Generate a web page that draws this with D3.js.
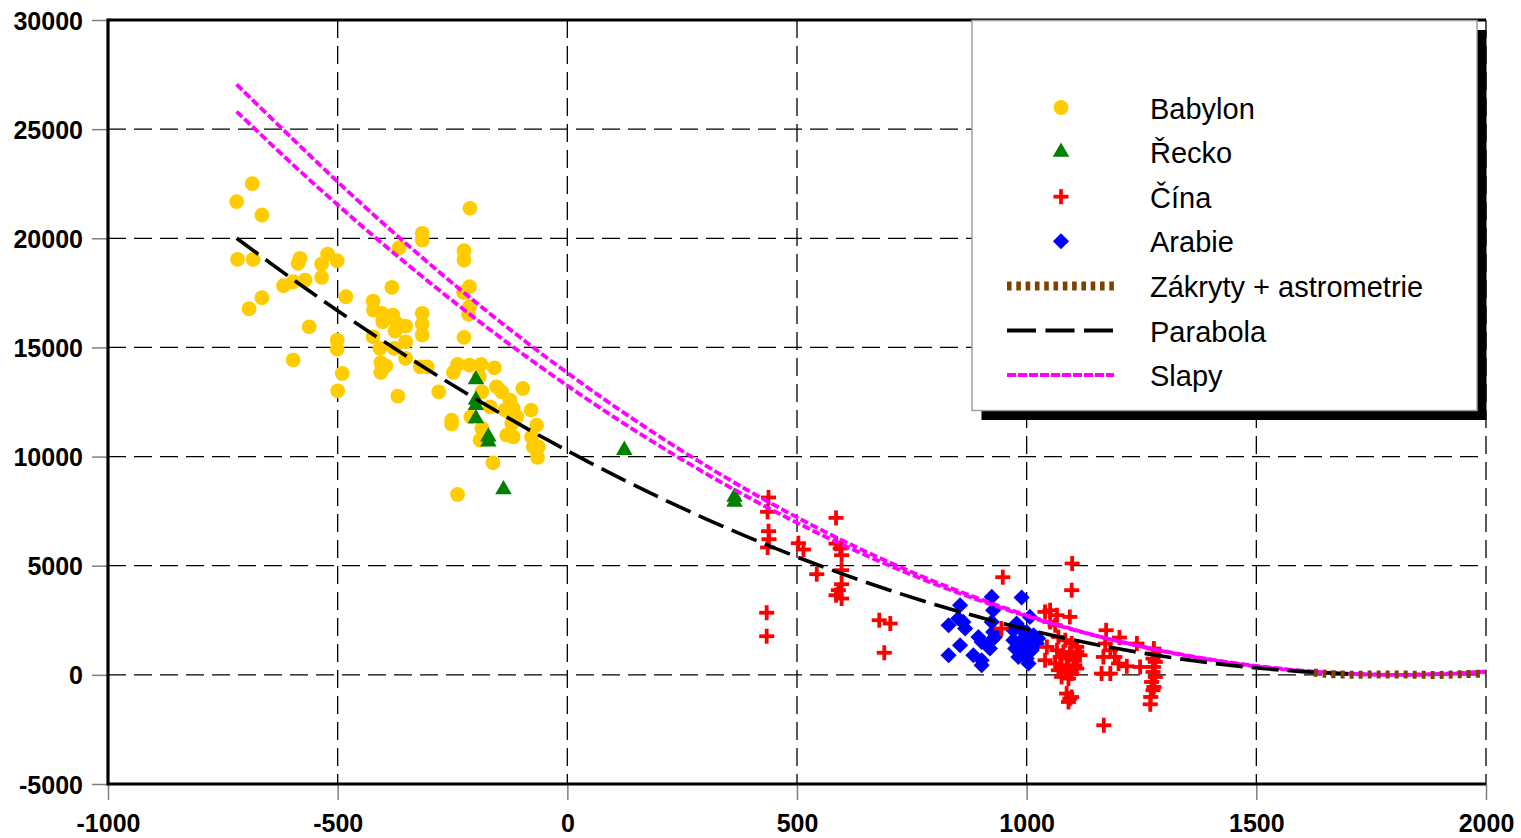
<!DOCTYPE html>
<html>
<head>
<meta charset="utf-8">
<script src="https://cdn.jsdelivr.net/npm/d3@7/dist/d3.min.js"></script>
<style>
  html, body { margin: 0; padding: 0; background: #ffffff; }
  svg { display: block; }
</style>
</head>
<body>
<svg id="chart" width="1521" height="838"></svg>
<script>
// ΔT observations (year, seconds) per historical source
const babylon = [
  [-686, 22500], [-720, 21680], [-665, 21066], [-212, 21373], [-316, 20227], [-316, 19920],
  [-366, 19567], [-718, 19036], [-684, 19036], [-582, 19082], [-586, 18852], [-522, 19279],
  [-535, 18820], [-501, 18971], [-225, 19430], [-225, 19004], [-618, 17826], [-597, 18009],
  [-571, 18087], [-535, 18211], [-665, 17276], [-693, 16771], [-482, 17322], [-382, 17752],
  [-423, 17124], [-422, 16712], [-404, 16561], [-402, 16176], [-380, 16483], [-371, 16102],
  [-375, 15749], [-352, 15978], [-316, 16561], [-316, 16070], [-316, 15566], [-213, 17780],
  [-226, 17523], [-213, 16863], [-215, 16515], [-225, 15460], [-562, 15946], [-501, 15337],
  [-501, 14924], [-423, 15488], [-408, 14956], [-377, 14956], [-352, 15259], [-352, 14498],
  [-597, 14420], [-490, 13810], [-500, 13013], [-406, 14296], [-395, 14159], [-406, 13856],
  [-320, 14113], [-305, 14113], [-369, 12770], [-280, 12967], [-248, 13856], [-239, 14223],
  [-213, 14191], [-188, 14223], [-159, 14067], [-192, 13655], [-186, 12967], [-154, 13196],
  [-143, 12967], [-97, 13123], [-125, 12587], [-168, 12280], [-136, 12128], [-118, 12206],
  [-110, 11821], [-79, 12128], [-121, 11519], [-210, 11821], [-252, 11670], [-252, 11487],
  [-186, 11289], [-190, 10753], [-132, 10982], [-118, 10904], [-67, 11441], [-78, 10904],
  [-74, 10446], [-63, 10446], [-65, 9960], [-162, 9713], [-239, 8264]
];

const recko = [
  [-199, 13535], [-199, 12587], [-199, 12357], [-199, 11748], [-172, 10904], [-172, 10675],
  [-139, 8493], [124, 10295], [364, 8154], [364, 7925]
];

const cina = [
  [438, 8127], [436, 7467], [438, 6582], [439, 6215], [436, 5835], [434, 2846], [434, 1769],
  [503, 6032], [514, 5743], [543, 4611], [585, 7192], [585, 6009], [594, 5789], [597, 5482],
  [597, 4795], [597, 4153], [585, 3649], [597, 3497], [590, 3878], [679, 2503], [703, 2351],
  [690, 1013], [948, 4474], [945, 2122],
  [1099, 5102], [1098, 3878], [1040, 2883], [1051, 2961], [1066, 2732], [1094, 2654],
  [1051, 2425], [1062, 2273], [1044, 1279], [1040, 669], [1069, 1737], [1084, 1586],
  [1098, 1435], [1109, 1279], [1066, 1128], [1080, 1050], [1094, 976], [1109, 1050],
  [1073, 820], [1087, 747], [1102, 669], [1116, 898], [1062, 518], [1076, 440],
  [1091, 362], [1105, 440], [1069, 211], [1084, 133], [1098, 60], [1109, 289],
  [1076, -96], [1091, -170], [1087, -857], [1094, -1086], [1098, -1013], [1091, -1242],
  [1173, 2044], [1202, 1710], [1240, 1435], [1171, 1435], [1182, 1128], [1167, 820],
  [1192, 820], [1200, 518], [1218, 394], [1247, 362], [1163, 60], [1182, 60], [1168, -2310],
  [1277, 1205], [1277, 976], [1275, 747], [1280, 591], [1276, 362], [1275, 133],
  [1280, -96], [1272, -325], [1277, -555], [1275, -706], [1270, -1013], [1269, -1348]
];

const arabie = [
  [855, 3190], [830, 2273], [851, 2581], [862, 2425], [866, 2122], [855, 1357], [830, 898],
  [884, 898], [895, 1737], [902, 1508], [902, 669], [902, 440], [924, 3571], [927, 2961],
  [924, 2425], [927, 1966], [931, 1737], [924, 1586], [920, 1205], [989, 3543], [1007, 2654],
  [978, 2351], [971, 2044], [986, 2122], [1000, 1966], [1015, 1815], [1025, 1664], [971, 1586],
  [989, 1586], [1007, 1508], [1022, 1435], [975, 1205], [993, 1205], [1011, 1128], [982, 820],
  [1000, 747], [1004, 518]
];

// Modern record from lunar occultations and astrometry
const zakrytyYears = [1625, 1650, 1700, 1750, 1800, 1850, 1900, 1950, 2000];
const zakrytyValues = [110, 50, 10, 13, 18, 7, -3, 29, 64];

// Parabolic fit
const parabolaYears = [-720, -600, -500, -400, -300, -200, -100, 0, 100, 200, 300, 400, 500,
  600, 700, 800, 900, 1000, 1100, 1200, 1300, 1400, 1500, 1600, 1700];
const parabolaValues = [20000, 18155, 16685, 15278, 13933, 12649, 11428, 10268, 9171, 8136, 7162,
  6251, 5401, 4614, 3889, 3225, 2624, 2084, 1607, 1192, 838, 547, 317, 150, 45];

// Tidal models (upper and lower bound)
const slapyYears = [-720, -600, -500, -400, -300, -200, -100, 0, 100, 200, 300, 400, 500, 600,
  700, 800, 900, 1000, 1100, 1200, 1300, 1400, 1500, 1600, 1700, 1800, 1900, 2000];
const slapyHorni = [27050, 24595, 22588, 20667, 18831, 17080, 15415, 13835, 12340, 10931, 9608,
  8369, 7216, 6149, 5167, 4270, 3459, 2733, 2092, 1537, 1068, 683, 384, 171, 43, 0, 43, 150];
const slapyDolni = [25806, 23426, 21530, 19714, 17978, 16322, 14746, 13250, 11834, 10498, 9242,
  8066, 6970, 5954, 5018, 4162, 3386, 2690, 2074, 1538, 1082, 706, 410, 194, 58, 2, 26, 130];

const xTicks = [-1000, -500, 0, 500, 1000, 1500, 2000];
const yTicks = [-5000, 0, 5000, 10000, 15000, 20000, 25000, 30000];

const legendLabels = ["Babylon", "Řecko", "Čína", "Arabie", "Zákryty + astrometrie", "Parabola", "Slapy"];

// ---- layout & styling ----
const FONT = "'Liberation Sans', Arial, Helvetica, sans-serif";
const C = {
  babylon: "#ffcc00", recko: "#008000", cina: "#ff0000", arabie: "#0000ff",
  zakryty: "#7f4000", parabola: "#000000", slapy: "#ff00ff"
};
const plot = { left: 108, right: 1486, top: 20, bottom: 784 };

const svg = d3.select("#chart");
svg.append("rect").attr("width", 1521).attr("height", 838).attr("fill", "#fff");

const x = d3.scaleLinear().domain([-1000, 2000]).range([plot.left, plot.right]);
const y = d3.scaleLinear().domain([-5000, 30000]).range([plot.bottom, plot.top]);

// grid
const grid = svg.append("g");
grid.selectAll("line.vg").data(xTicks.filter(d => d > -1000)).join("line")
  .attr("x1", d => x(d)).attr("x2", d => x(d))
  .attr("y1", plot.top).attr("y2", plot.bottom)
  .attr("stroke", "#000").attr("stroke-width", 1.3).attr("stroke-dasharray", "18,8");
grid.selectAll("line.hg").data(yTicks.filter(d => d > -5000 && d < 30000)).join("line")
  .attr("x1", plot.left).attr("x2", plot.right)
  .attr("y1", d => y(d)).attr("y2", d => y(d))
  .attr("stroke", "#000").attr("stroke-width", 1.3).attr("stroke-dasharray", "18,8");

// axes (plain hyphen for negative numbers)
const fmt = d => String(d);
const xAxis = d3.axisBottom(x).tickValues(xTicks).tickSize(16).tickPadding(14).tickFormat(fmt);
const yAxis = d3.axisLeft(y).tickValues(yTicks).tickSize(16).tickPadding(9).tickFormat(fmt);

const gx = svg.append("g").attr("transform", `translate(0,${plot.bottom})`).call(xAxis);
const gy = svg.append("g").attr("transform", `translate(${plot.left},0)`).call(yAxis);
[gx, gy].forEach(g => {
  g.select(".domain").remove();
  g.selectAll(".tick line").attr("stroke", "#808080").attr("stroke-width", 1.5);
  g.selectAll(".tick text")
    .attr("fill", "#000").attr("font-family", FONT).attr("font-size", 25).attr("font-weight", "bold");
});
gx.selectAll(".tick text").attr("dy", "0.71em").attr("y", 30);
gy.selectAll(".tick text").attr("dy", "0.36em");

// frame
svg.append("line").attr("x1", plot.left).attr("x2", plot.left).attr("y1", plot.top - 1.5).attr("y2", plot.bottom + 1.5)
  .attr("stroke", "#000").attr("stroke-width", 3.2);
svg.append("line").attr("x1", plot.left).attr("x2", plot.right).attr("y1", plot.bottom).attr("y2", plot.bottom)
  .attr("stroke", "#000").attr("stroke-width", 3.2);
svg.append("line").attr("x1", plot.left).attr("x2", plot.right).attr("y1", plot.top).attr("y2", plot.top)
  .attr("stroke", "#000").attr("stroke-width", 3.2);

// marker shapes
const circlePath = d3.symbol(d3.symbolCircle, 172)();
const trianglePath = d3.symbol(d3.symbolTriangle, 118)();
const diamondPath = d3.symbol(d3.symbolSquare, 130)();
function drawPlus(sel, size) {
  const h = size / 2;
  sel.append("line").attr("x1", -h).attr("x2", h).attr("y1", 0).attr("y2", 0);
  sel.append("line").attr("x1", 0).attr("x2", 0).attr("y1", -h).attr("y2", h);
}

const pts = svg.append("g");
pts.append("g").selectAll("path").data(babylon).join("path")
  .attr("d", circlePath).attr("fill", C.babylon)
  .attr("transform", d => `translate(${x(d[0])},${y(d[1])})`);
pts.append("g").selectAll("path").data(arabie).join("path")
  .attr("d", diamondPath).attr("fill", C.arabie)
  .attr("transform", d => `translate(${x(d[0])},${y(d[1])}) rotate(45)`);
pts.append("g").selectAll("g").data(cina).join("g")
  .attr("transform", d => `translate(${x(d[0])},${y(d[1])})`)
  .attr("stroke", C.cina).attr("stroke-width", 3.8)
  .each(function () { drawPlus(d3.select(this), 15); });
pts.append("g").selectAll("path").data(recko).join("path")
  .attr("d", trianglePath).attr("fill", C.recko)
  .attr("transform", d => `translate(${x(d[0])},${y(d[1])})`);

// curves
const line = d3.line().x(d => x(d[0])).y(d => y(d[1])).curve(d3.curveCatmullRom);
const curves = svg.append("g").attr("fill", "none");
curves.append("path").datum(d3.zip(slapyYears, slapyHorni)).attr("d", line)
  .attr("stroke", C.slapy).attr("stroke-width", 3.8).attr("stroke-dasharray", "8,3");
curves.append("path").datum(d3.zip(slapyYears, slapyDolni)).attr("d", line)
  .attr("stroke", C.slapy).attr("stroke-width", 3.8).attr("stroke-dasharray", "8,3");
curves.append("path").datum(d3.zip(parabolaYears, parabolaValues)).attr("d", line)
  .attr("stroke", C.parabola).attr("stroke-width", 3.6).attr("stroke-dasharray", "27,9");
curves.append("path").datum(d3.zip(zakrytyYears, zakrytyValues)).attr("d", line)
  .attr("stroke", C.zakryty).attr("stroke-width", 8).attr("stroke-dasharray", "4,5");

// legend
const lg = { x: 972, y: 20.5, w: 505, h: 390, shadow: 9.5 };
svg.append("rect").attr("x", lg.x + lg.shadow).attr("y", lg.y + lg.shadow)
  .attr("width", lg.w).attr("height", lg.h).attr("fill", "#000");
svg.append("rect").attr("x", lg.x).attr("y", lg.y).attr("width", lg.w).attr("height", lg.h)
  .attr("fill", "#fff").attr("stroke", "#a0a0a0").attr("stroke-width", 1.5);

const rowY = i => lg.y + 87 + i * 44.6;
const symX = 1061, textX = 1150, lineX1 = 1007, lineX2 = 1114;
const leg = svg.append("g");
leg.append("path").attr("d", circlePath).attr("fill", C.babylon)
  .attr("transform", `translate(${symX},${rowY(0)})`);
leg.append("path").attr("d", trianglePath).attr("fill", C.recko)
  .attr("transform", `translate(${symX},${rowY(1)})`);
leg.append("g").attr("transform", `translate(${symX},${rowY(2)})`)
  .attr("stroke", C.cina).attr("stroke-width", 3.8).call(s => drawPlus(s, 15));
leg.append("path").attr("d", diamondPath).attr("fill", C.arabie)
  .attr("transform", `translate(${symX},${rowY(3)}) rotate(45)`);
const legLines = [
  { i: 4, c: C.zakryty, w: 9, dash: "4.6,4.7" },
  { i: 5, c: C.parabola, w: 4, dash: "29,9.5" },
  { i: 6, c: C.slapy, w: 4, dash: "9,2" }
];
legLines.forEach(l => {
  leg.append("line").attr("x1", lineX1).attr("x2", lineX2).attr("y1", rowY(l.i)).attr("y2", rowY(l.i))
    .attr("stroke", l.c).attr("stroke-width", l.w).attr("stroke-dasharray", l.dash);
});
leg.selectAll("text").data(legendLabels).join("text")
  .attr("x", textX).attr("y", (d, i) => rowY(i) + 11)
  .attr("font-family", FONT).attr("font-size", 29).attr("fill", "#000")
  .text(d => d);
</script>
</body>
</html>
